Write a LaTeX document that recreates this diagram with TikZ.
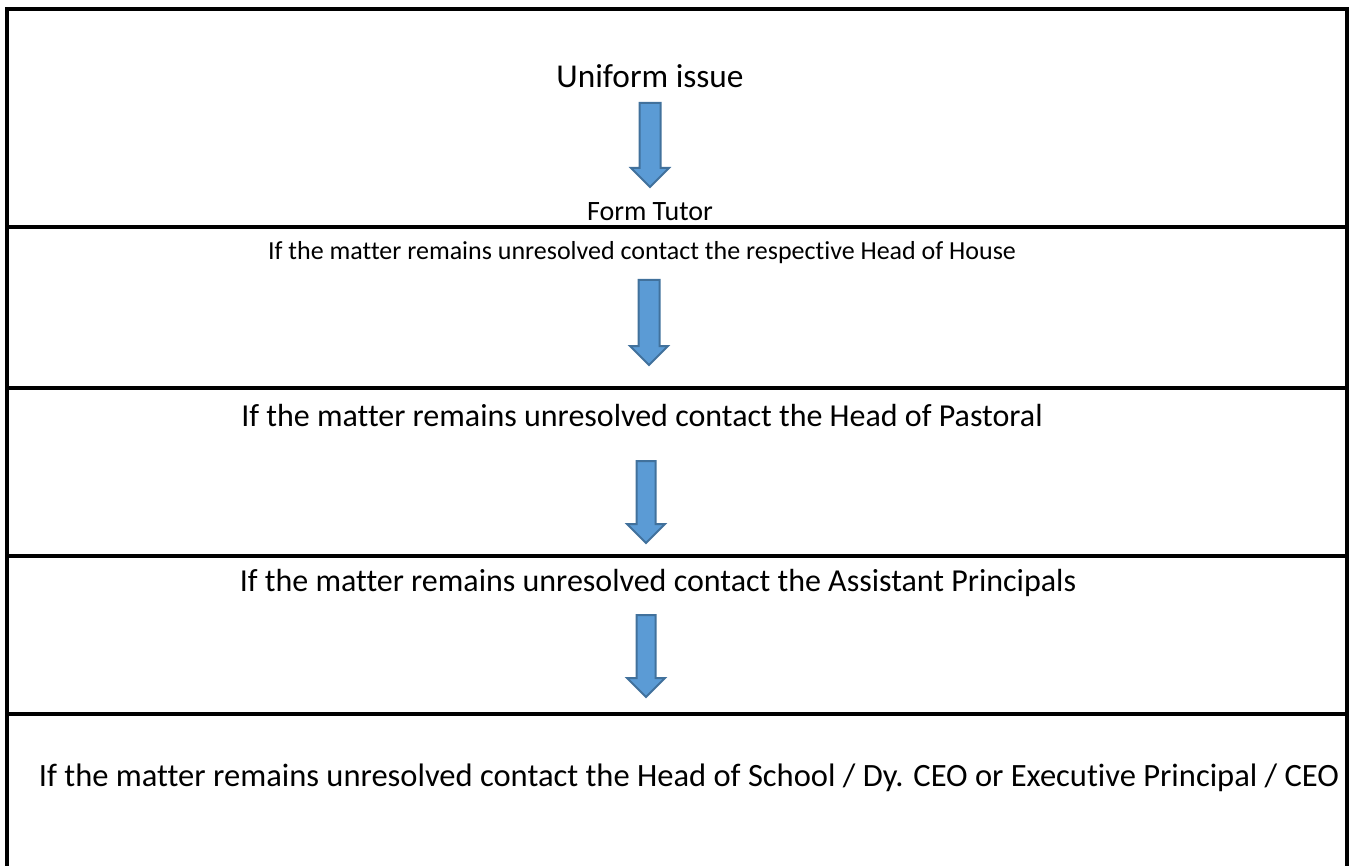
\documentclass[tikz,border=0pt]{standalone}
\usepackage{fontspec}
\setmainfont{Carlito}[Ligatures=NoCommon]
\usepackage{xcolor}

\definecolor{arrowfill}{HTML}{5B9BD5}
\definecolor{arrowedge}{HTML}{41719C}

\tikzset{
    steptext/.style={inner sep=0pt, font=\fontsize{24}{28}\selectfont},
    smalltext/.style={inner sep=0pt, font=\fontsize{19.5}{23}\selectfont},
    flowarrow/.style={arrowedge, fill=arrowfill, line width=1.5, line join=miter},
    frameline/.style={black, line width=2.5}
}

% x, top, tip, half shaft width
\newcommand{\downflow}[4]{%
    \draw[flowarrow] (#1-#4,#2) -- (#1+#4,#2) -- (#1+#4,#3-19) -- (#1+19,#3-19)
        -- (#1,#3) -- (#1-19,#3-19) -- (#1-#4,#3-19) -- cycle;}

\begin{document}
\begin{tikzpicture}[x=0.75pt, y=-0.75pt]
    \useasboundingbox (0,0) rectangle (1353,866);

    % Рамка
    \draw[frameline] (7,880) -- (7,9) -- (1347,9) -- (1347,880);
    \foreach \yy in {227,388,556,714}
        \draw[frameline] (7,\yy) -- (1347,\yy);

    % Тексты
    \node[steptext, font=\fontsize{25}{29}\selectfont] (issue) at (650,76) {Uniform issue};
    \node[smalltext, font=\fontsize{21}{25}\selectfont] (tutor) at (650,212) {Form Tutor};
    \node[smalltext] (house) at (642,253) {If the matter remains unresolved contact the respective Head of House};
    \node[steptext] (pastoral) at (642,416) {If the matter remains unresolved contact the Head of Pastoral};
    \node[steptext] (assistant) at (658,583) {If the matter remains unresolved contact the Assistant Principals};
    \node[steptext, font=\fontsize{24.4}{28}\selectfont] (school) at (689,778) {If the matter remains unresolved contact the Head of School / Dy. CEO or Executive Principal / CEO};

    % Стрелки
    \downflow{650}{103}{187}{10.5}
    \downflow{649}{280}{365}{10.5}
    \downflow{646}{461}{543}{9.5}
    \downflow{646}{615}{697}{9.5}
\end{tikzpicture}
\end{document}
